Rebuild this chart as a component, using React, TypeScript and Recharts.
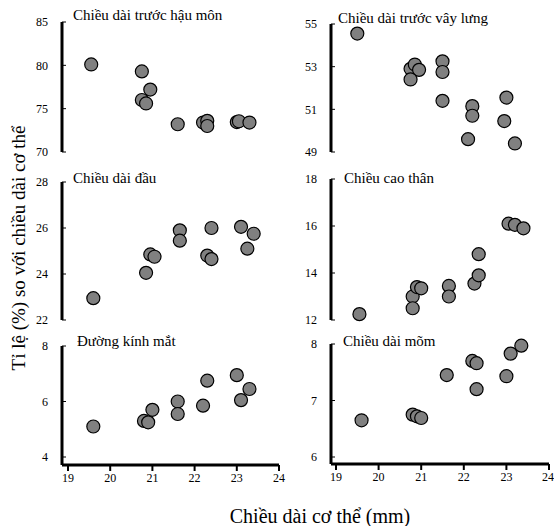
import { ScatterChart, Scatter, XAxis, YAxis } from "recharts";

const FONT = "Liberation Serif";

const bodyTicks = [19, 20, 21, 22, 23, 24];

// Chiều dài trước hậu môn
const analX = [19.55, 20.75, 20.95, 20.75, 20.85, 21.6, 22.2, 22.3, 22.3, 23.0, 23.05, 23.3];
const analY = [80.1, 79.3, 77.2, 76.0, 75.6, 73.2, 73.4, 73.6, 73.0, 73.45, 73.55, 73.4];
const analTicks = [70, 75, 80, 85];

// Chiều dài trước vây lưng
const dorsalX = [19.5, 20.75, 20.85, 20.95, 20.75, 21.5, 21.5, 21.5, 22.2, 22.2, 22.1, 23.0, 22.95, 23.2];
const dorsalY = [54.55, 52.9, 53.1, 52.85, 52.4, 53.25, 52.75, 51.4, 51.15, 50.7, 49.6, 51.55, 50.45, 49.4];
const dorsalTicks = [49, 51, 53, 55];

// Chiều dài đầu
const headX = [19.6, 20.85, 20.95, 21.05, 21.65, 21.65, 22.4, 22.3, 22.4, 23.1, 23.25, 23.4];
const headY = [22.95, 24.05, 24.85, 24.75, 25.9, 25.45, 26.0, 24.8, 24.65, 26.05, 25.1, 25.75];
const headTicks = [22, 24, 26, 28];

// Chiều cao thân
const depthX = [19.55, 20.8, 20.8, 20.9, 21.0, 21.65, 21.65, 22.25, 22.35, 22.35, 23.05, 23.2, 23.4];
const depthY = [12.25, 13.0, 12.5, 13.4, 13.35, 13.45, 13.0, 13.55, 13.9, 14.8, 16.1, 16.05, 15.9];
const depthTicks = [12, 14, 16, 18];

// Đường kính mắt
const eyeX = [19.6, 20.8, 20.9, 21.0, 21.6, 21.6, 22.3, 22.2, 23.0, 23.1, 23.3];
const eyeY = [5.1, 5.3, 5.25, 5.7, 6.0, 5.55, 6.75, 5.85, 6.95, 6.05, 6.45];
const eyeTicks = [4, 6, 8];

// Chiều dài mõm
const snoutX = [19.6, 20.8, 20.9, 21.0, 21.6, 22.2, 22.3, 22.3, 23.0, 23.1, 23.35];
const snoutY = [6.65, 6.75, 6.72, 6.69, 7.45, 7.7, 7.66, 7.2, 7.43, 7.83, 7.97];
const snoutTicks = [6, 7, 8];

const toPoints = (xs: number[], ys: number[]) => xs.map((x, i) => ({ x, y: ys[i] }));

const Dot = (props: any) => (
  <circle cx={props.cx} cy={props.cy} r={6.5} fill="#808080" stroke="#000" strokeWidth={1.2} />
);

const titleStyle = (left: number, top: number): any => ({
  position: "absolute",
  left,
  top,
  fontSize: 15,
  lineHeight: "15px",
  whiteSpace: "nowrap",
  color: "#000",
  fontFamily: FONT,
});

const Panel = (p: any) => {
  const data = toPoints(p.xs, p.ys);
  const plotW = p.left < 200 ? 217 : 218;
  const mRight = p.width - p.yWidth - plotW;
  const xH = p.showX ? 30 : 0;
  const mBottom = p.showX ? 0 : 8;
  const plotH = p.height - 10 - mBottom - xH;
  const padB = p.padBottom ?? 0;
  const lo = p.ticks[0];
  const hi = p.ticks[p.ticks.length - 1];
  // lowest tick sits padB px above the x axis
  const yMin = padB ? lo - (padB * (hi - lo)) / (plotH - padB) : lo;
  return (
    <div style={{ position: "absolute", left: p.left, top: p.top }}>
      <ScatterChart
        width={p.width}
        height={p.height}
        margin={{ top: 10, right: mRight, bottom: mBottom, left: 0 }}
      >
        {p.showX ? (
          <XAxis
            type="number"
            dataKey="x"
            domain={[19, 24]}
            ticks={bodyTicks}
            height={30}
            padding={{ left: p.padLeft, right: 0 }}
            stroke="#000"
            axisLine={{ stroke: "#000", strokeWidth: 3 }}
            tickLine={{ stroke: "#000", strokeWidth: 2 }}
            tick={{ fill: "#000", fontSize: 12, fontFamily: FONT }}
          />
        ) : (
          <XAxis
            type="number"
            dataKey="x"
            domain={[19, 24]}
            ticks={bodyTicks}
            hide
            padding={{ left: p.padLeft, right: 0 }}
          />
        )}
        <YAxis
          type="number"
          dataKey="y"
          domain={[yMin, hi]}
          ticks={p.ticks}
          width={p.yWidth}
          tick={{ fill: "#000", fontSize: 12, fontFamily: FONT }}
          axisLine={{ stroke: "#000", strokeWidth: 3 }}
          tickLine={{ stroke: "#000" }}
          tickSize={-4}
          tickMargin={18}
        />
        <Scatter data={data} dataKey="y" shape={Dot} isAnimationActive={false} />
      </ScatterChart>
    </div>
  );
};

export default function App() {
  return (
    <div
      style={{
        position: "absolute",
        left: 0,
        top: 0,
        width: 555,
        height: 526,
        background: "#fff",
        fontFamily: FONT,
      }}
    >
      <Panel xs={analX} ys={analY} ticks={analTicks} left={10} top={12} width={279} height={148}
        yWidth={52} padLeft={6} />
      <Panel xs={dorsalX} ys={dorsalY} ticks={dorsalTicks} left={280} top={14} width={274} height={146}
        yWidth={51} padLeft={5} />
      <Panel xs={headX} ys={headY} ticks={headTicks} left={10} top={172} width={279} height={156}
        yWidth={52} padLeft={6} />
      <Panel xs={depthX} ys={depthY} ticks={depthTicks} left={280} top={169} width={274} height={159}
        yWidth={51} padLeft={5} />
      <Panel xs={eyeX} ys={eyeY} ticks={eyeTicks} left={10} top={336} width={279} height={159}
        yWidth={52} padLeft={6} padBottom={8} showX />
      <Panel xs={snoutX} ys={snoutY} ticks={snoutTicks} left={280} top={334} width={274} height={160}
        yWidth={51} padLeft={5} padBottom={7} showX />
      <div style={titleStyle(73, 8)}>Chiều dài trước hậu môn</div>
      <div style={titleStyle(338, 10.5)}>Chiều dài trước vây lưng</div>
      <div style={titleStyle(73, 171)}>Chiều dài đầu</div>
      <div style={titleStyle(344, 171)}>Chiều cao thân</div>
      <div style={titleStyle(77, 333.5)}>Đường kính mắt</div>
      <div style={titleStyle(343, 333.5)}>Chiều dài mõm</div>
      <div
        style={{
          position: "absolute",
          left: 170,
          width: 300,
          top: 506,
          textAlign: "center",
          fontSize: 20,
          lineHeight: "20px",
          whiteSpace: "nowrap",
        }}
      >
        Chiều dài cơ thể (mm)
      </div>
      <svg width={40} height={526} style={{ position: "absolute", left: 0, top: 0 }}>
        <text
          x={0}
          y={0}
          transform="translate(25 248) rotate(-90)"
          textAnchor="middle"
          fontSize={19}
          fontFamily={FONT}
          fill="#000"
        >
          Tỉ lệ (%) so với chiều dài cơ thể
        </text>
      </svg>
    </div>
  );
}
